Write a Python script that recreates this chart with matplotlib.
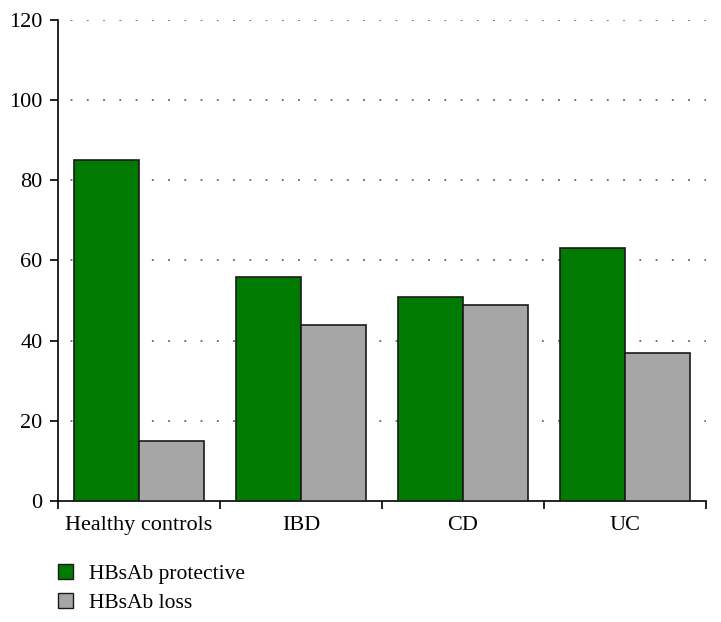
import matplotlib
matplotlib.use("Agg")
import matplotlib.pyplot as plt
import numpy as np
from matplotlib.patches import Patch

categories = ["Healthy controls", "IBD", "CD", "UC"]
protective = [85, 56, 51, 63.2]
loss = [15, 44, 49, 36.8]
series_names = ["HBsAb protective", "HBsAb loss"]
colors = ["#007a00", "#a6a6a6"]

plt.rcParams['font.family'] = ['Liberation Serif', 'DejaVu Serif']

fig = plt.figure(figsize=(7.21, 6.22), dpi=100)
ax = fig.add_axes([58/721, 1-501/622, (706-58)/721, (501-20)/622])

x = np.arange(len(categories))
w = 0.4
ax.bar(x - w/2, protective, w, color=colors[0], edgecolor="#1a1a1a", linewidth=1.2, zorder=3)
ax.bar(x + w/2, loss, w, color=colors[1], edgecolor="#1a1a1a", linewidth=1.2, zorder=3)

ax.set_xlim(-0.5, len(categories) - 0.5)
ax.set_ylim(0, 120)
ax.set_yticks(np.arange(0, 121, 20))
ax.set_xticks(x)
ax.set_xticklabels(categories)
ax.set_xticks(np.arange(-0.5, len(categories), 1), minor=True)
ax.tick_params(axis='x', which='major', length=0, pad=11, labelsize=16)
ax.tick_params(axis='x', which='minor', length=6, width=1.2, direction='out')
ax.tick_params(axis='y', length=6, width=1.2, labelsize=16, pad=5)

for v in np.arange(20, 121, 20):
    ax.axhline(v, color="#666666", linewidth=1.3, linestyle=(2, (1, 8)), zorder=1)

for s in ["top", "right"]:
    ax.spines[s].set_visible(False)
for s in ["left", "bottom"]:
    ax.spines[s].set_linewidth(1.2)

handles = [Patch(facecolor=colors[0], edgecolor="#1a1a1a", label=series_names[0]),
           Patch(facecolor=colors[1], edgecolor="#1a1a1a", label=series_names[1])]
fig.legend(handles=handles, loc="upper left", bbox_to_anchor=(49/721, 1-555/622),
           frameon=False, fontsize=15.5, handlelength=0.7, handleheight=0.7,
           handletextpad=0.75, labelspacing=0.42, borderaxespad=0)

fig.savefig("out.png", dpi=100)
